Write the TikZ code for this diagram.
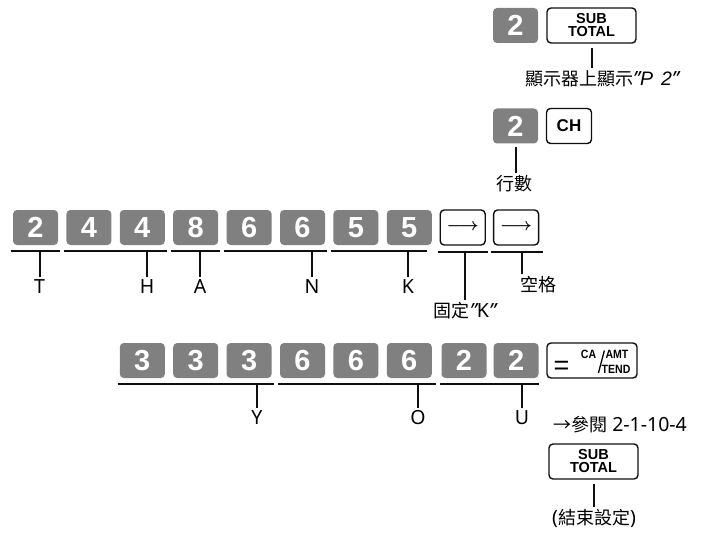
\documentclass[tikz,border=0pt]{standalone}
\usepackage{fontspec}
\setmainfont{Noto Sans}
\newfontfamily\cjkfont{Noto Sans CJK TC}
\newfontfamily\keyfont{Liberation Sans}
\usepackage{graphicx}
\usetikzlibrary{positioning, calc}
\definecolor{grisTouche}{RGB}{128, 128, 128}
\definecolor{noirTrait}{RGB}{15, 15, 15}
\newcommand{\zh}[1]{{\cjkfont\fontsize{18}{18}\selectfont #1}}
\newcommand{\guil}{{\itshape"}}

\begin{document}
\begin{tikzpicture}[x=1pt, y=-1pt,
  numkey/.style={rectangle, fill=grisTouche, rounded corners=4pt,
    minimum width=45pt, minimum height=35pt, inner sep=0pt,
    text=white, font=\keyfont\bfseries\fontsize{29}{29}\selectfont},
  fnkey/.style={rectangle, draw=noirTrait, line width=1.4pt, rounded corners=4pt,
    minimum width=45pt, minimum height=35pt, inner sep=0pt,
    align=center, font=\keyfont\bfseries\fontsize{14.5}{13}\selectfont},
  keytxt/.style={inner sep=0pt, font=\keyfont\bfseries\fontsize{12}{12}\selectfont},
  uline/.style={line width=2pt, draw=noirTrait},
  tick/.style={line width=2pt, draw=noirTrait},
  lbl/.style={font=\fontsize{19.5}{19.5}\selectfont, inner sep=2pt, anchor=north},
]
\useasboundingbox (0,0) rectangle (709,540);
% --- setting the print count
\node[numkey] (p2)   at (515.5, 25.5) {2};
\node[fnkey, minimum width=89pt] (sub1) at (591.5, 25.5) {SUB\\TOTAL};
\node[lbl] (lDisp) at (602, 68)
  {\zh{顯示器上顯示}\guil{\keyfont\itshape P\hspace{8pt}2}\guil};
\draw[tick, shorten <=4pt] (sub1.south) -- (sub1.south |- lDisp.north);
\node[numkey] (c2)   at (515.5, 126) {2};
\node[fnkey, font=\keyfont\bfseries\fontsize{17}{17}\selectfont] (ch) at (569, 126) {CH};
\node[lbl] (lRow) at (514, 173) {\zh{行數}};
\draw[tick, shorten <=3pt] (c2.south) -- (c2.south |- lRow.north);
% --- first line: T H A N K
\node[numkey] (kT)  at (35.5,  227.5) {2};
\node[numkey] (kHa) at (88.9,  227.5) {4};
\node[numkey] (kHb) at (142.3, 227.5) {4};
\node[numkey] (kA)  at (195.7, 227.5) {8};
\node[numkey] (kNa) at (249.1, 227.5) {6};
\node[numkey] (kNb) at (302.5, 227.5) {6};
\node[numkey] (kKa) at (355.9, 227.5) {5};
\node[numkey] (kKb) at (409.3, 227.5) {5};
\node[fnkey, font=\fontsize{17}{17}\selectfont\boldmath] (arrK)  at (462.7, 227.5) {$\longrightarrow$};
\node[fnkey, font=\fontsize{17}{17}\selectfont\boldmath] (arrSp) at (516.1, 227.5) {$\longrightarrow$};
\coordinate (uT)  at ($(kT.south)+(0,6)$);
\coordinate (uK2) at ($(arrK.south)+(0,6)$);
\draw[uline] ($(kT.south west)+(-2,6)$)  -- ($(kT.south east)+(2,6)$);
\draw[uline] ($(kHa.south west)+(-2,6)$) -- ($(kHb.south east)+(2,6)$);
\draw[uline] ($(kA.south west)+(-2,6)$)  -- ($(kA.south east)+(2,6)$);
\draw[uline] ($(kNa.south west)+(-2,6)$) -- ($(kNb.south east)+(2,6)$);
\draw[uline] ($(kKa.south west)+(-2,6)$) -- ($(kKb.south east)+(-5,6)$);
\draw[uline] ($(arrK.south west)+(-2,6)$)  -- ($(arrK.south east)+(2,6)$);
\draw[uline] ($(arrSp.south west)+(-2,6)$) -- ($(arrSp.south east)+(4,6)$);
\node[lbl] (lT) at (39.5, 277) {T};
\node[lbl] (lH) at (147,  277) {H};
\node[lbl] (lA) at (200,  277) {A};
\node[lbl] (lN) at (312,  277) {N};
\node[lbl] (lK) at (408,  277) {K};
\node[lbl] (lFix) at (465, 300) {\zh{固定}\guil K\guil};
\node[lbl] (lSp)  at (538, 274) {\zh{空格}};
\draw[tick] (lT.north) -- (lT.north |- uT);
\draw[tick] (lH.north) -- (lH.north |- uT);
\draw[tick] (lA.north) -- (lA.north |- uT);
\draw[tick] (lN.north) -- (lN.north |- uT);
\draw[tick] (lK.north) -- (lK.north |- uT);
\draw[tick] (lFix.north) -- (lFix.north |- uK2);
\draw[tick] ($(lSp.north)+(-16,0)$) -- ($(lSp.north |- uK2)+(-16,0)$);
% --- second line: Y O U
\node[numkey] (kYa) at (142.3, 360.5) {3};
\node[numkey] (kYb) at (195.7, 360.5) {3};
\node[numkey] (kYc) at (249.1, 360.5) {3};
\node[numkey] (kOa) at (302.5, 360.5) {6};
\node[numkey] (kOb) at (355.9, 360.5) {6};
\node[numkey] (kOc) at (409.3, 360.5) {6};
\node[numkey] (kUa) at (464.0, 360.5) {2};
\node[numkey] (kUb) at (516.1, 360.5) {2};
\node[fnkey, minimum width=90pt] (tend) at (592, 360.5) {};
\node[keytxt, font=\keyfont\fontsize{27}{27}\selectfont] (tEq) at (561.5, 367.5) {=};
\node[keytxt] (tCA)   at (588.5, 354.5) {\scalebox{0.88}[1]{CA}};
\node[keytxt] (tAMT)  at (617,   354.5) {\scalebox{0.88}[1]{AMT}};
\node[keytxt] (tTEND) at (616,   369)   {\scalebox{0.88}[1]{TEND}};
\draw[line width=1.3pt] ($(tTEND.west)+(-3,4)$) -- ($(tAMT.west)+(-1,-4)$);
\coordinate (uY) at ($(kYa.south)+(0,6)$);
\draw[uline] ($(kYa.south west)+(-2,6)$) -- ($(kYc.south east)+(2,6)$);
\draw[uline] ($(kOa.south west)+(-2,6)$) -- ($(kOc.south east)+(4,6)$);
\draw[uline] ($(kUa.south west)+(-1,6)$) -- ($(kUb.south east)+(0,6)$);
\node[lbl] (lY) at (257, 408) {Y};
\node[lbl] (lO) at (418, 408) {O};
\node[lbl] (lU) at (522, 408) {U};
\draw[tick] (lY.north) -- (lY.north |- uY);
\draw[tick] (lO.north) -- (lO.north |- uY);
\draw[tick] (lU.north) -- (lU.north |- uY);
\node[font=\fontsize{19.5}{19.5}\selectfont, anchor=base west, inner sep=0pt] (lRef)
  at (553, 431) {\zh{→參閱} 2-1-10-4};
% --- end of setting
\node[fnkey, minimum width=89pt] (sub2) at (593.5, 461.5) {SUB\\TOTAL};
\node[lbl] (lEnd) at (594, 507) {(\zh{結束設定})};
\draw[tick, shorten <=4pt] (sub2.south) -- (sub2.south |- lEnd.north);
\end{tikzpicture}
\end{document}
